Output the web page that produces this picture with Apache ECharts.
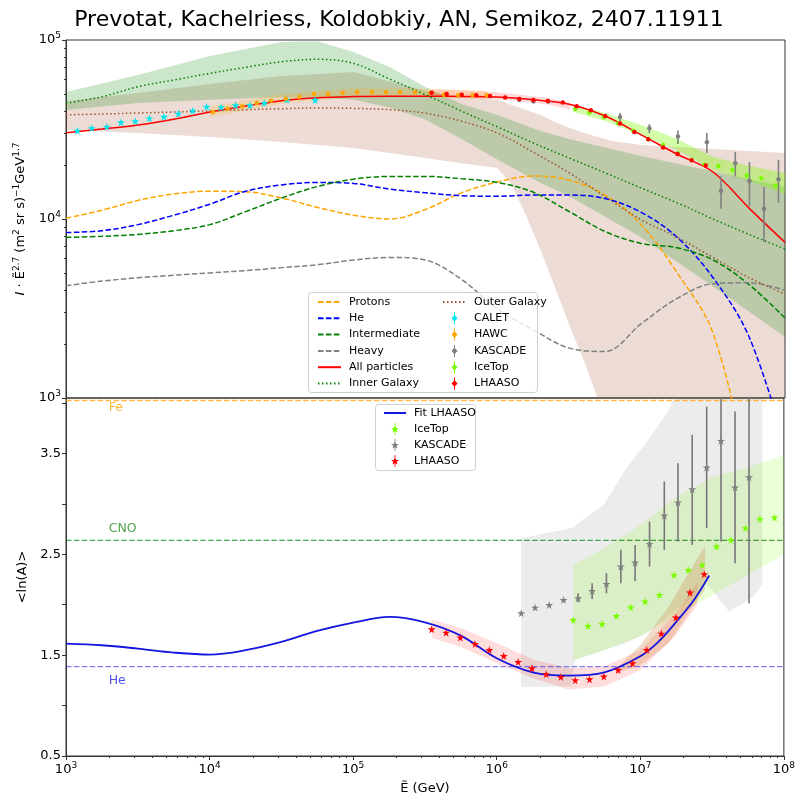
<!DOCTYPE html>
<html><head><meta charset="utf-8">
<script src="https://cdn.jsdelivr.net/npm/echarts@6/dist/echarts.min.js"></script>
<style>html,body{margin:0;padding:0;background:#fff}#c{width:798px;height:800px}</style>
</head><body><div id="c"></div>
<script>
// ---------------- DATA ----------------
const TITLE = 'Prevotat, Kachelriess, Koldobkiy, AN, Semikoz, 2407.11911';
// common energy grid for model curves (GeV)
const E_GRID = [1e3,1.78e3,3.16e3,5.62e3,1e4,1.78e4,3.16e4,5.62e4,1e5,1.78e5,3.16e5,5.62e5,1e6,1.78e6,3.16e6,5.62e6,1e7,1.78e7,3.16e7,5.62e7,1e8];
const PROTONS = [10100,11200,12700,13800,14300,14200,13100,11600,10500,10000,11300,14000,16100,17400,16500,13600,9300,5000,2300,350,30];
const HELIUM = [8400,8600,9300,10500,12100,14300,15500,16000,15800,14700,14000,13500,13400,13600,13600,13000,10900,7900,4700,2200,550];
const INTERMEDIATE = [7900,8000,8200,8600,9300,11000,13100,15200,16700,17300,17300,16800,16000,14100,11000,8500,7300,6900,5900,4300,2800];
const HEAVY = [4240,4500,4700,4850,5000,5150,5350,5550,5900,6100,5900,4600,3150,2400,1900,1820,2600,3600,4350,4400,4000];
const ALL = [30300,31800,33500,36100,39600,42800,45800,47600,48300,48500,48500,48400,48000,46300,43800,37600,29500,23000,18300,11500,7400];
const INNER = [44300,48200,54800,59800,65100,70400,75600,78000,74000,60500,49500,40100,32700,26600,21900,18100,14900,12300,10000,8200,6800];
const OUTER = [38200,38600,39100,39600,40200,40800,41300,41700,41500,40800,39000,35200,30200,23600,18100,13300,9900,7900,6100,4700,3800];

// uncertainty bands (top panel)
const OUTER_BAND_E = [1e3,3.16e3,1e4,3.16e4,1e5,3.16e5,5.62e5,1e6,1.26e6,1.58e6,2.0e6,2.51e6,3.16e6,3.98e6,5.01e6,6.31e6,1e7,3.16e7,1e8];
const OUTER_BAND_HI = [45600,50600,56800,63000,66300,52000,48000,46300,43400,40700,38100,34800,32300,30200,28700,27300,25900,24600,23400];
const OUTER_BAND_LO = [31400,30200,28700,26900,24900,21900,20500,19300,15500,10500,6700,4170,2560,1630,980,600,200,100,100];
const INNER_BAND_E = [1e3,3.16e3,1e4,3.16e4,5.62e4,1e5,1.78e5,3.16e5,5.62e5,1e6,2.0e6,3.16e6,1e7,3.16e7,1e8];
const INNER_BAND_HI = [51200,63700,81500,97500,98500,85700,70600,54600,43900,38100,31000,28000,22500,18500,15100];
const INNER_BAND_LO = [40700,44500,46300,48000,47500,46300,42000,36000,28000,21500,15900,13400,7900,4200,2200];
const HAWC_BAND_E = [1.0e4,3.16e4,1e5,3.16e5,8.5e5];
const HAWC_BAND_HI = [42500,50000,54000,53500,52000];
const HAWC_BAND_LO = [37000,44000,48000,48000,46500];
const LHAASO_BAND_E = [3.49e5,1e6,2.24e6,3.2e6];
const LHAASO_BAND_HI = [53000,51000,47600,44500];
const LHAASO_BAND_LO = [48500,46700,43600,40800];
const ICETOP_BAND_E = [3.4e6,5.62e6,1e7,1.78e7,3.16e7,5.62e7,1e8];
const ICETOP_BAND_HI = [43400,39100,33500,28000,22200,19800,18100];
const ICETOP_BAND_LO = [39600,35300,29400,24300,18800,16300,13800];

// measurements (top panel)
const CALET_E = [1.20e3,1.51e3,1.92e3,2.41e3,3.03e3,3.80e3,4.80e3,6.04e3,7.60e3,9.51e3,1.20e4,1.51e4,1.90e4,2.39e4,3.43e4,5.40e4];
const CALET_I = [31100,32200,32800,34700,35200,36500,37300,38800,40300,42400,42200,43200,43200,44500,46400,46200];
const HAWC_E = [1.05e4,1.33e4,1.68e4,2.12e4,2.67e4,3.38e4,4.19e4,5.30e4,6.64e4,8.40e4,1.06e5,1.34e5,1.68e5,2.10e5,2.67e5,3.40e5,4.25e5,5.35e5,6.73e5,8.43e5];
const HAWC_I = [39600,41300,42600,44500,45800,47000,48100,49900,49900,50600,51000,51000,51000,51000,51000,50600,49400,49100,49100,49100];
const LHAASO_E = [3.49e5,4.44e5,5.65e5,7.13e5,8.89e5,1.13e6,1.42e6,1.78e6,2.24e6,2.85e6,3.56e6,4.46e6,5.62e6,7.12e6,8.96e6,1.12e7,1.42e7,1.79e7,2.24e7,2.81e7];
const LHAASO_I = [50800,49900,49400,49100,48700,47800,46800,46200,45600,44700,42700,40500,37600,34200,30600,27900,25100,23100,21300,19900];
const KASCADE_E = [1.42e6,1.78e6,2.26e6,7.13e6,1.14e7,1.80e7,2.86e7,3.59e7,4.51e7,5.66e7,7.14e7,9.01e7];
const KASCADE_I = [46400,45500,45500,37100,32100,28900,26800,14400,20500,16300,11400,16700];
const KASCADE_LO = [45000,44100,44100,35300,30200,26200,23400,11400,17300,11800,7450,12300];
const KASCADE_HI = [47800,46900,46900,39100,33900,31200,30200,17300,23700,20800,15100,21400];
const ICETOP_E = [3.47e6,4.36e6,5.51e6,6.93e6,8.81e6,1.12e7,1.42e7,1.80e7,2.24e7,2.75e7,3.44e7,4.32e7,5.42e7,6.84e7,8.61e7];
const ICETOP_I = [41200,39300,37000,34300,31100,27900,25900,23300,21400,20100,19800,18800,17500,16900,15400];

// bottom panel: <ln A>
const FIT_E = [1e3,1.78e3,3.16e3,5.62e3,1e4,1.78e4,3.16e4,5.62e4,1e5,1.78e5,3.16e5,5.62e5,1e6,1.78e6,3.16e6,5.62e6,1e7,1.33e7,1.78e7,2.37e7,3.02e7];
const FIT_LNA = [1.615,1.598,1.565,1.526,1.506,1.549,1.631,1.74,1.823,1.879,1.826,1.694,1.469,1.330,1.298,1.33,1.49,1.63,1.83,2.05,2.29];
const LH_LNA_E = [3.52e5,4.44e5,5.58e5,7.06e5,8.88e5,1.12e6,1.41e6,1.76e6,2.21e6,2.80e6,3.52e6,4.43e6,5.57e6,7.01e6,8.83e6,1.11e7,1.40e7,1.77e7,2.22e7,2.79e7];
const LH_LNA = [1.757,1.724,1.675,1.611,1.552,1.492,1.433,1.370,1.311,1.284,1.251,1.261,1.288,1.353,1.420,1.552,1.714,1.873,2.121,2.303];
const KAS_LNA_E = [1.48e6,1.85e6,2.32e6,2.92e6,3.69e6,4.62e6,5.81e6,7.32e6,9.20e6,1.16e7,1.47e7,1.83e7,2.30e7,2.90e7,3.65e7,4.57e7,5.72e7];
const KAS_LNA = [1.916,1.972,1.998,2.048,2.065,2.137,2.206,2.379,2.419,2.603,2.885,3.014,3.146,3.361,3.625,3.163,3.265];
const KAS_LNA_LO = [1.90,1.96,1.985,2.035,2.025,2.058,2.114,2.213,2.236,2.379,2.544,2.627,2.593,2.759,2.627,2.412,2.015];
const KAS_LNA_HI = [1.93,1.985,2.01,2.06,2.115,2.213,2.313,2.544,2.593,2.825,3.222,3.404,3.685,3.966,4.3,3.917,4.3];
const ICE_LNA_E = [3.41e6,4.32e6,5.42e6,6.82e6,8.59e6,1.08e7,1.36e7,1.72e7,2.16e7,2.70e7,3.40e7,4.28e7,5.41e7,6.81e7,8.61e7];
const ICE_LNA = [1.849,1.790,1.810,1.889,1.975,2.032,2.097,2.296,2.345,2.395,2.577,2.643,2.759,2.851,2.865];
// bottom bands
const KAS_BAND_E = [1.48e6,3.3e6,3.5e6,5.62e6,7.94e6,1.12e7,1.58e7,2.0e7,2.82e7,3.16e7,3.55e7,4.17e7,5.01e7,6.31e7,7.08e7];
const KAS_BAND_LO = [1.185,1.19,1.45,1.55,1.62,1.72,1.90,2.0,2.2,2.15,2.05,1.93,2.0,2.1,2.2];
const KAS_BAND_HI = [2.66,2.76,2.78,3.0,3.35,3.62,3.93,4.3,4.3,4.3,4.3,4.3,4.3,4.3,4.3];
const ICE_BAND_E = [3.4e6,5.62e6,1e7,1.78e7,3.16e7,5.62e7,1e8];
const ICE_BAND_LO = [1.452,1.549,1.688,1.896,2.094,2.293,2.501];
const ICE_BAND_HI = [2.395,2.560,2.789,3.067,3.265,3.364,3.483];
const LH_BAND_E = [3.55e5,5.62e5,1e6,1.78e6,3.16e6,5.62e6,1e7,1.78e7,2.5e7];
const LH_BAND_LO = [1.67,1.58,1.42,1.27,1.16,1.19,1.35,1.70,2.00];
const LH_BAND_HI = [1.85,1.77,1.62,1.46,1.37,1.39,1.55,1.92,2.22];
const LH2_BAND_E = [7.0e6,1e7,1.58e7,2.24e7,2.82e7];
const LH2_BAND_LO = [1.33,1.40,1.62,1.95,2.15];
const LH2_BAND_HI = [1.38,1.60,1.98,2.35,2.58];
// reference lines ln(A)
const REF_NAMES = ['Fe','CNO','He'];
const REF_LNA = [4.025,2.639,1.386];
const REF_LABEL_Y = [3.95,2.75,1.24];
const REF_LABEL_E = 2e3;
const REF_COLORS = ['rgba(255,165,0,0.75)','rgba(0,128,0,0.7)','rgba(0,0,255,0.5)'];
const REF_TEXT_COLORS = ['#FFA500','#228B22','#2222EE'];

// ---------------- CHART ----------------
const F = 'DejaVu Sans';
const STAR = 'path://M50,0 L61,35 L98,35 L68,57 L79,91 L50,70 L21,91 L32,57 L2,35 L39,35 Z';
const BAR_DOT = 'path://M4.5,0 L5.5,0 L5.5,3.2 L8,6 L5.5,8.8 L5.5,12 L4.5,12 L4.5,8.8 L2,6 L4.5,3.2 Z';
const BAR_STAR = 'path://M9.3,0 L10.7,0 L10.7,20 L9.3,20 Z M10,3.5 L12,8.4 L16.6,8.4 L12.9,11.4 L14.2,16 L10,13.2 L5.8,16 L7.1,11.4 L3.4,8.4 L8,8.4 Z';
const DASH = [5.5,2.4], DOT = [1.5,2.5];

function pairs(xs, ys){ return xs.map((x,i)=>[x, ys[i]]); }
function curve(name, xs, ys, color, type, xi, yi, w){
  return {type:'line', name, xAxisIndex:xi, yAxisIndex:yi, data:pairs(xs,ys), smooth:0.35,
    symbol:'none', showSymbol:false, clip:true, z:3, silent:true,
    lineStyle:{color, width:w||1.5, type:type||'solid'}, itemStyle:{color}};
}
// filled band between lo and hi, drawn as one polygon through the axis scales
function band(id, xs, lo, hi, color, xi, yi){
  return {type:'custom', name:id, xAxisIndex:xi, yAxisIndex:yi, clip:true, z:1, silent:true,
    data: xs.map((x,i)=>[x, lo[i], hi[i]]), encode:{x:0, y:[1,2]},
    renderItem:(p, api)=>{
      if (p.dataIndex !== 0) return null;
      const pts = [];
      for (let i=0;i<xs.length;i++) pts.push(api.coord([xs[i], hi[i]]));
      for (let i=xs.length-1;i>=0;i--) pts.push(api.coord([xs[i], lo[i]]));
      return {type:'polygon', shape:{points:pts}, style:{fill:color}};
    }};
}
function points(name, xs, ys, color, symbol, size, xi, yi){
  return {type:'scatter', name, xAxisIndex:xi, yAxisIndex:yi, data:pairs(xs,ys), symbol, symbolSize:size,
    itemStyle:{color, opacity:1}, z:6, silent:true, clip:true};
}
function errbars(name, xs, lo, hi, color, xi, yi){
  return {type:'custom', name, xAxisIndex:xi, yAxisIndex:yi, clip:true, z:5, silent:true,
    data: xs.map((x,i)=>[x, lo[i], hi[i]]), encode:{x:0, y:[1,2]},
    renderItem:(p, api)=>{
      const a = api.coord([api.value(0), api.value(1)]);
      const b = api.coord([api.value(0), api.value(2)]);
      return {type:'line', shape:{x1:a[0], y1:a[1], x2:b[0], y2:b[1]}, style:{stroke:color, lineWidth:1.6}};
    }};
}
const expLabel = {
  formatter: v => '{b|10}{s|' + Math.round(Math.log10(v)) + '}',
  rich: { b:{fontSize:13, fontFamily:F, color:'#000', lineHeight:18},
          s:{fontSize:9, fontFamily:F, color:'#000', lineHeight:10, verticalAlign:'top'} }
};

const series = [];
// top bands
series.push(band('outer', OUTER_BAND_E, OUTER_BAND_LO, OUTER_BAND_HI, 'rgba(160,82,45,0.2)', 0, 0));
series.push(band('inner', INNER_BAND_E, INNER_BAND_LO, INNER_BAND_HI, 'rgba(0,128,0,0.2)', 0, 0));
series.push(band('hawc', HAWC_BAND_E, HAWC_BAND_LO, HAWC_BAND_HI, 'rgba(255,165,0,0.18)', 0, 0));
series.push(band('lhaasoT', LHAASO_BAND_E, LHAASO_BAND_LO, LHAASO_BAND_HI, 'rgba(255,0,0,0.15)', 0, 0));
series.push(band('icetopT', ICETOP_BAND_E, ICETOP_BAND_LO, ICETOP_BAND_HI, 'rgba(124,252,0,0.35)', 0, 0));
// top curves
series.push(curve('Protons', E_GRID, PROTONS, '#FFA500', DASH, 0, 0));
series.push(curve('He', E_GRID, HELIUM, '#0000FF', DASH, 0, 0));
series.push(curve('Intermediate', E_GRID, INTERMEDIATE, '#008000', DASH, 0, 0));
series.push(curve('Heavy', E_GRID, HEAVY, '#808080', DASH, 0, 0));
series.push(curve('All particles', E_GRID, ALL, '#FF0000', 'solid', 0, 0));
series.push(curve('Inner Galaxy', E_GRID, INNER, '#008000', DOT, 0, 0));
series.push(curve('Outer Galaxy', E_GRID, OUTER, '#A0522D', DOT, 0, 0));
// top points
series.push(errbars('KASCADE_err', KASCADE_E, KASCADE_LO, KASCADE_HI, '#808080', 0, 0));
series.push(points('CALET', CALET_E, CALET_I, '#00E5EE', STAR, 8, 0, 0));
series.push(points('HAWC', HAWC_E, HAWC_I, '#FFA500', 'circle', 4.5, 0, 0));
series.push(points('KASCADE', KASCADE_E, KASCADE_I, '#808080', 'circle', 4.5, 0, 0));
series.push(points('IceTop', ICETOP_E, ICETOP_I, '#7CFC00', 'circle', 4.5, 0, 0));
series.push(points('LHAASO', LHAASO_E, LHAASO_I, '#FF0000', 'circle', 4.5, 0, 0));
// bottom bands
series.push(band('kasB', KAS_BAND_E, KAS_BAND_LO, KAS_BAND_HI, 'rgba(128,128,128,0.15)', 1, 1));
series.push(band('iceB', ICE_BAND_E, ICE_BAND_LO, ICE_BAND_HI, 'rgba(124,252,0,0.15)', 1, 1));
series.push(band('lhB', LH_BAND_E, LH_BAND_LO, LH_BAND_HI, 'rgba(255,0,0,0.13)', 1, 1));
series.push(band('lh2B', LH2_BAND_E, LH2_BAND_LO, LH2_BAND_HI, 'rgba(205,133,63,0.28)', 1, 1));
// reference lines
REF_NAMES.forEach((n,i)=>{
  series.push({type:'line', name:'ref_'+n, xAxisIndex:1, yAxisIndex:1, data:[[1e3, REF_LNA[i]],[1e8, REF_LNA[i]]],
    symbol:'none', lineStyle:{color:REF_COLORS[i], width:1.3, type:DASH}, z:2, silent:true});
});
series.push({type:'scatter', name:'ref_labels', xAxisIndex:1, yAxisIndex:1, symbolSize:1, silent:true, z:7,
  itemStyle:{color:'rgba(0,0,0,0)'},
  data: REF_NAMES.map((n,i)=>({value:[REF_LABEL_E, REF_LABEL_Y[i]],
    label:{show:true, position:[0,0], align:'left', verticalAlign:'middle', formatter:n,
           color:REF_TEXT_COLORS[i], fontSize:12.5, fontFamily:F}}))});
// bottom curve & points
series.push(curve('Fit LHAASO', FIT_E, FIT_LNA, '#1515E0', 'solid', 1, 1, 1.8));
series.push(errbars('KAS_lna_err', KAS_LNA_E, KAS_LNA_LO, KAS_LNA_HI, '#777777', 1, 1));
series.push(points('IceTop ', ICE_LNA_E, ICE_LNA, '#7CFC00', STAR, 8, 1, 1));
series.push(points('KASCADE ', KAS_LNA_E, KAS_LNA, '#808080', STAR, 8, 1, 1));
series.push(points('LHAASO ', LH_LNA_E, LH_LNA, '#FF0000', STAR, 8, 1, 1));

const legendText = {fontSize:11, fontFamily:F, color:'#000', lineHeight:12, padding:[0,0,0,3]};
const lineItem = n => ({name:n, itemStyle:{opacity:0}});
const option = {
  animation:false,
  backgroundColor:'#fff',
  title:{text:TITLE, left:'center', top:4, textStyle:{fontSize:22, fontWeight:'normal', color:'#000', fontFamily:F}},
  grid:[
    {left:66, top:40, width:719, height:358, show:true, borderColor:'#333', borderWidth:1, backgroundColor:'transparent'},
    {left:66, top:398, width:719, height:358, show:true, borderColor:'#333', borderWidth:1, backgroundColor:'transparent'}
  ],
  xAxis:[
    {type:'log', logBase:10, gridIndex:0, min:1e3, max:1e8, axisLabel:{show:false}, axisTick:{show:false},
     axisLine:{show:false}, splitLine:{show:false}},
    {type:'log', logBase:10, gridIndex:1, min:1e3, max:1e8, axisLine:{show:true, lineStyle:{color:'#333'}},
     axisTick:{show:true, length:4, lineStyle:{color:'#333'}}, minorTick:{show:true, splitNumber:9, length:2, lineStyle:{color:'#333'}},
     splitLine:{show:false}, axisLabel:Object.assign({margin:5}, expLabel),
     name:'Ẽ (GeV)', nameLocation:'middle', nameGap:26, nameTextStyle:{fontSize:13, fontFamily:F, color:'#000'}}
  ],
  yAxis:[
    {type:'log', logBase:10, gridIndex:0, min:1e3, max:1e5, axisLine:{show:true, lineStyle:{color:'#333'}},
     axisTick:{show:true, length:4, lineStyle:{color:'#333'}}, minorTick:{show:true, splitNumber:9, length:2, lineStyle:{color:'#333'}},
     splitLine:{show:false}, axisLabel:Object.assign({margin:5}, expLabel),
     name:'{i|I}{t| · Ẽ}{s|2.7}{t| (m}{s|2}{t| sr s)}{s|−1}{t|GeV}{s|1.7}', nameLocation:'middle', nameGap:36, nameMoveOverlap:false,
     nameTextStyle:{rich:{
       i:{fontSize:13, fontStyle:'italic', fontFamily:F, color:'#000', lineHeight:18},
       t:{fontSize:13, fontFamily:F, color:'#000', lineHeight:18},
       s:{fontSize:9, fontFamily:F, color:'#000', lineHeight:10, verticalAlign:'top'}}}},
    {type:'value', gridIndex:1, min:0.5, max:4.05, interval:0.5, axisLine:{show:true, lineStyle:{color:'#333'}},
     axisTick:{show:true, length:4, lineStyle:{color:'#333'}}, splitLine:{show:false},
     axisLabel:{margin:5, fontSize:13, fontFamily:F, color:'#000', showMaxLabel:false,
       formatter: v => (Math.abs((v*2) % 2 - 1) < 1e-6 ? v.toFixed(1) : '')},
     name:'<ln(A)>', nameLocation:'middle', nameGap:35, nameTextStyle:{fontSize:13, fontFamily:F, color:'#000'}}
  ],
  legend:[
    {data:['Protons','He','Intermediate','Heavy','All particles','Inner Galaxy'].map(lineItem), orient:'vertical', left:312, top:291,
     itemWidth:23, itemHeight:12, itemGap:4.3, textStyle:legendText, selectedMode:false, z:20},
    {data:[lineItem('Outer Galaxy'), {name:'CALET', icon:BAR_DOT}, {name:'HAWC', icon:BAR_DOT}, {name:'KASCADE', icon:BAR_DOT},
           {name:'IceTop', icon:BAR_DOT}, {name:'LHAASO', icon:BAR_DOT}], orient:'vertical', left:437, top:291,
     itemWidth:23, itemHeight:12, itemGap:4.3, textStyle:legendText, selectedMode:false, z:20},
    {data:[lineItem('Fit LHAASO'), {name:'IceTop ', icon:BAR_STAR}, {name:'KASCADE ', icon:BAR_STAR}, {name:'LHAASO ', icon:BAR_STAR}],
     orient:'vertical', left:378, top:402, itemWidth:22, itemHeight:12, itemGap:4, textStyle:legendText, selectedMode:false, z:20}
  ],
  graphic:[
    {type:'rect', left:308, top:292, shape:{width:229, height:100, r:3}, style:{fill:'rgba(255,255,255,0.8)', stroke:'#d0d0d0', lineWidth:1}, z:10},
    {type:'rect', left:375, top:404, shape:{width:100, height:66, r:3}, style:{fill:'rgba(255,255,255,0.8)', stroke:'#d0d0d0', lineWidth:1}, z:10}
  ],
  series
};
const chart = echarts.init(document.getElementById('c'), null, {renderer:'canvas'});
chart.setOption(option);
</script></body></html>
